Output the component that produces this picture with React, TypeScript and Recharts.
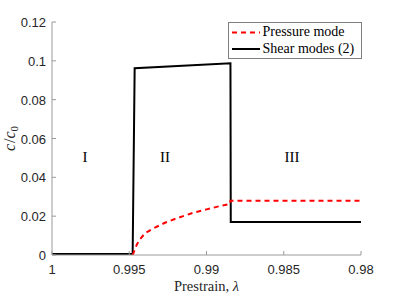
import React from "react";
import { LineChart, Line, XAxis, YAxis, Legend, ReferenceDot } from "recharts";

// axis ticks
const lambdaTicks = [1, 0.995, 0.99, 0.985, 0.98];
const ratioTicks = [0, 0.02, 0.04, 0.06, 0.08, 0.1, 0.12];

// shear modes (2): black solid
const shearLambda = [1, 0.99478, 0.99465, 0.98845, 0.98843, 0.98];
const shearRatio = [0.0005, 0.0005, 0.0962, 0.0987, 0.017, 0.017];

// pressure mode: red dashed
const pressureLambda = [
  0.99478, 0.99452, 0.99435, 0.99398, 0.99344, 0.99269, 0.99193, 0.99096,
  0.98999, 0.98913, 0.98848, 0.98845, 0.98,
];
const pressureRatio = [
  0, 0.0052, 0.0077, 0.0112, 0.0137, 0.0166, 0.0189, 0.0215, 0.0235, 0.0252,
  0.0263, 0.028, 0.028,
];

// region annotations
const regionNames = ["I", "II", "III"];
const regionLambda = [0.99786, 0.99269, 0.98447];
const regionRatio = [0.0506, 0.0506, 0.0506];

const seriesNames = ["Pressure mode", "Shear modes (2)"];
const seriesColors = ["#ff0000", "#000000"];
const seriesDash = ["5 4", undefined];

const shearData = shearLambda.map((lambda, i) => ({ lambda, ratio: shearRatio[i] }));
const pressureData = pressureLambda.map((lambda, i) => ({ lambda, ratio: pressureRatio[i] }));

const AXIS_COLOR = "#9a9a9a";
const TICK_TEXT = "#262626";
const SANS = "'Liberation Sans', Arial, sans-serif";
const SERIF = "'Liberation Serif', 'Times New Roman', serif";

const BottomTick = ({ x, y, payload }: any) => (
  <g>
    <line x1={x} y1={y} x2={x} y2={y - 4} stroke={AXIS_COLOR} />
    <text x={x} y={y + 19} textAnchor="middle" fontFamily={SANS} fontSize={13} fill={TICK_TEXT}>
      {payload.value}
    </text>
  </g>
);

const LeftTick = ({ x, y, payload }: any) => (
  <g>
    <line x1={x} y1={y} x2={x + 4} y2={y} stroke={AXIS_COLOR} />
    <text x={x - 6} y={y + 5} textAnchor="end" fontFamily={SANS} fontSize={13} fill={TICK_TEXT}>
      {payload.value}
    </text>
  </g>
);

const TopTick = ({ x, y }: any) => <line x1={x} y1={y} x2={x} y2={y + 4} stroke={AXIS_COLOR} />;
const RightTick = ({ x, y }: any) => <line x1={x} y1={y} x2={x - 4} y2={y} stroke={AXIS_COLOR} />;

const renderXLabel = ({ viewBox }: any) => (
  <text
    x={viewBox.x + viewBox.width / 2}
    y={viewBox.y + 36}
    textAnchor="middle"
    fontFamily={SERIF}
    fontSize={14.5}
    fill={TICK_TEXT}
  >
    Prestrain, <tspan fontStyle="italic">λ</tspan>
  </text>
);

const renderYLabel = ({ viewBox }: any) => {
  const cx = viewBox.x + 15;
  const cy = viewBox.y + viewBox.height / 2;
  return (
    <text
      x={cx}
      y={cy}
      transform={`rotate(-90, ${cx}, ${cy})`}
      textAnchor="middle"
      fontFamily={SERIF}
      fontSize={16}
      fill={TICK_TEXT}
    >
      <tspan fontStyle="italic">c</tspan>
      <tspan dx={1}>/</tspan>
      <tspan fontStyle="italic">c</tspan>
      <tspan fontSize={11} dy={3}>0</tspan>
    </text>
  );
};

const LegendBox = () => (
  <svg width={134} height={37}>
    <rect x={0.5} y={0.5} width={133} height={36} fill="#fff" stroke="#7f7f7f" />
    {seriesNames.map((name, i) => {
      const cy = 10.5 + i * 16.5;
      return (
        <g key={name}>
          <line x1={4} y1={cy} x2={32} y2={cy} stroke={seriesColors[i]} strokeWidth={2} strokeDasharray={seriesDash[i]} />
          <text x={34.5} y={cy + 3.5} fontFamily={SERIF} fontSize={14} fill="#000">
            {name}
          </text>
        </g>
      );
    })}
  </svg>
);

export default function App() {
  return (
    <div style={{ position: "absolute", left: 0, top: 0 }}>
      <LineChart width={399} height={299} margin={{ top: 22, right: 38, bottom: 0, left: 0 }}>
        <XAxis
          dataKey="lambda"
          type="number"
          domain={[0.98, 1]}
          reversed
          allowDataOverflow
          ticks={lambdaTicks}
          interval={0}
          height={44}
          tickSize={0}
          tickMargin={0}
          tickLine={false}
          stroke={AXIS_COLOR}
          tick={BottomTick}
          label={renderXLabel}
        />
        <XAxis
          xAxisId="top"
          orientation="top"
          dataKey="lambda"
          type="number"
          domain={[0.98, 1]}
          reversed
          allowDataOverflow
          ticks={lambdaTicks}
          interval={0}
          height={0}
          tickSize={0}
          tickMargin={0}
          tickLine={false}
          stroke={AXIS_COLOR}
          tick={TopTick}
        />
        <YAxis
          type="number"
          domain={[0, 0.12]}
          allowDataOverflow
          ticks={ratioTicks}
          interval={0}
          width={52}
          tickSize={0}
          tickMargin={0}
          tickLine={false}
          stroke={AXIS_COLOR}
          tick={LeftTick}
          label={renderYLabel}
        />
        <YAxis
          yAxisId="right"
          orientation="right"
          type="number"
          domain={[0, 0.12]}
          allowDataOverflow
          ticks={ratioTicks}
          interval={0}
          width={0}
          tickSize={0}
          tickMargin={0}
          tickLine={false}
          stroke={AXIS_COLOR}
          tick={RightTick}
        />
        <Line
          data={shearData}
          dataKey="ratio"
          name={seriesNames[1]}
          type="linear"
          stroke={seriesColors[1]}
          strokeWidth={2}
          dot={false}
          activeDot={false}
          isAnimationActive={false}
        />
        <Line
          data={pressureData}
          dataKey="ratio"
          name={seriesNames[0]}
          type="linear"
          stroke={seriesColors[0]}
          strokeWidth={2}
          strokeDasharray={seriesDash[0]}
          dot={false}
          activeDot={false}
          isAnimationActive={false}
        />
        {regionNames.map((name, i) => (
          <ReferenceDot
            key={name}
            x={regionLambda[i]}
            y={regionRatio[i]}
            r={0}
            ifOverflow="visible"
            shape={(p: any) => (
              <text x={p.cx} y={p.cy + 5} textAnchor="middle" fontFamily={SERIF} fontSize={15} fill="#000">
                {name}
              </text>
            )}
          />
        ))}
        <Legend
          layout="horizontal"
          verticalAlign="middle"
          content={LegendBox}
          wrapperStyle={{ left: 228, top: 22, width: 134, height: 37 }}
        />
      </LineChart>
    </div>
  );
}
